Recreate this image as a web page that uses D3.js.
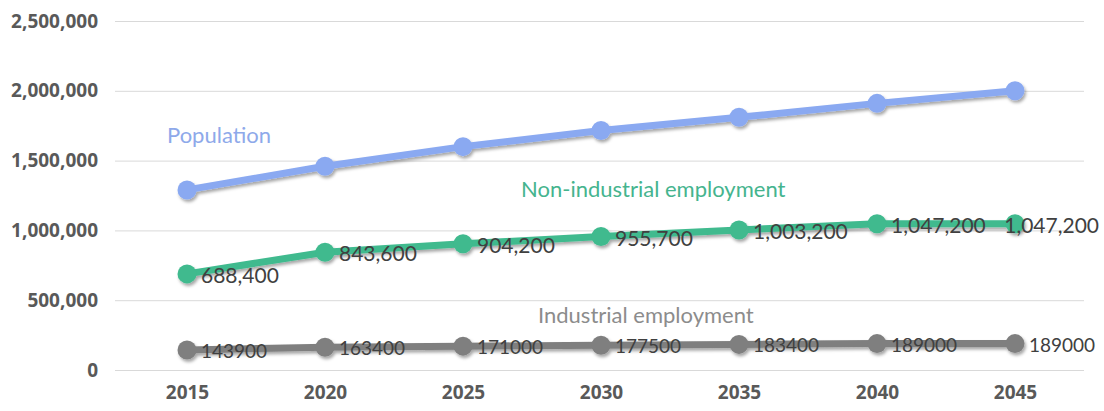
<!DOCTYPE html>
<html><head><meta charset="utf-8">
<script src="https://cdn.jsdelivr.net/npm/d3@7"></script>
<style>
body{margin:0;background:#fff;}
svg{display:block;}
</style></head><body>
<svg id="chart" width="1104" height="411"></svg>
<script>
const years = ["2015","2020","2025","2030","2035","2040","2045"];
const population = [1290000,1460000,1600000,1715000,1810000,1910000,2000000];
const nonIndustrial = [688400,843600,904200,955700,1003200,1047200,1047200];
const industrial = [143900,163400,171000,177500,183400,189000,189000];
const yTicks = [0,500000,1000000,1500000,2000000,2500000];

const svg = d3.select("#chart");
const x = d3.scalePoint().domain(years).range([187,1015]);
const y = d3.scaleLinear().domain([0,2500000]).range([370,21]);

const defs = svg.append("defs");
const f = defs.append("filter").attr("id","sh").attr("x","-20%").attr("y","-50%").attr("width","140%").attr("height","200%");
f.append("feDropShadow").attr("dx",1.5).attr("dy",2.5).attr("stdDeviation",1.8).attr("flood-color","#000").attr("flood-opacity",0.35);

// grid
const ya = svg.append("g").attr("transform","translate(115,0)")
  .call(d3.axisLeft(y).tickValues(yTicks).tickSize(-969).tickPadding(17).tickFormat(d3.format(",")));
ya.select(".domain").remove();
ya.selectAll(".tick line").attr("stroke","#d9d9d9").attr("stroke-width",1);
ya.selectAll(".tick text").attr("fill","#595959").style("font-family","Open Sans").style("font-weight","bold").style("font-size","19px");

const xa = svg.append("g").attr("transform","translate(0,370)")
  .call(d3.axisBottom(x).tickSize(0).tickPadding(16));
xa.select(".domain").remove();
xa.selectAll(".tick text").attr("fill","#595959").style("font-family","Open Sans").style("font-weight","bold").style("font-size","19px");

const series = [
  {name:"Population", vals:population, color:"#8aa9f1", labels:null},
  {name:"Non-industrial employment", vals:nonIndustrial, color:"#3fba8e", labels:d3.format(","), fs:21, dy:9},
  {name:"Industrial employment", vals:industrial, color:"#7f7f7f", labels:d3.format("d"), fs:19, dy:8}
];
const line = d3.line().x((d,i)=>x(years[i])).y(d=>y(d));

series.forEach(s=>{
  const g = svg.append("g").attr("filter","url(#sh)");
  g.append("path").datum(s.vals).attr("d",line).attr("fill","none").attr("stroke",s.color).attr("stroke-width",7).attr("stroke-linejoin","round");
  g.selectAll("circle").data(s.vals).join("circle").attr("cx",(d,i)=>x(years[i])).attr("cy",d=>y(d)).attr("r",9.5).attr("fill",s.color);
});

series.forEach(s=>{
  if(!s.labels) return;
  svg.append("g").selectAll("text").data(s.vals).join("text")
    .attr("x",(d,i)=>x(years[i])+14).attr("y",d=>y(d)+s.dy)
    .attr("fill","#404040").style("font-family","Lato").style("font-size",s.fs+"px")
    .text(d=>s.labels(d))
    .each(function(){
      const w = this.getComputedTextLength();
      const x0 = +this.getAttribute("x");
      if(x0 + w > 1099) this.setAttribute("x", 1099 - w);
    });
});

const nameLabels = [
  {text:"Population", x:167, y:143, color:"#8ea9ea"},
  {text:"Non-industrial employment", x:521, y:197, color:"#45b48e"},
  {text:"Industrial employment", x:538, y:323, color:"#8c8c8c"}
];
svg.append("g").selectAll("text").data(nameLabels).join("text")
  .attr("x",d=>d.x).attr("y",d=>d.y).attr("fill",d=>d.color)
  .style("font-family","Lato").style("font-size","22px").text(d=>d.text);
</script>
</body></html>
